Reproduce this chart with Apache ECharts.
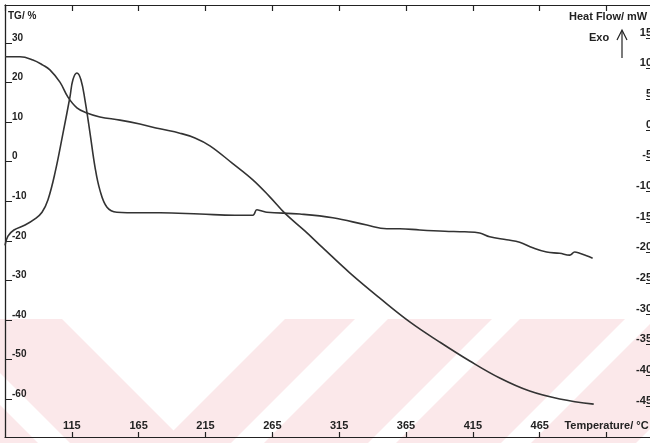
<!DOCTYPE html>
<html>
<head>
<meta charset="utf-8">
<style>html,body{margin:0;padding:0;background:#fff;overflow:hidden;}#c{width:661px;height:443px;}</style>
<script src="https://cdn.jsdelivr.net/npm/echarts@6/dist/echarts.min.js"></script>
</head>
<body>
<div id="c"></div>
<script>
// Temperature (°C) / TG (%) readings
const tgTemp  = [65, 76.2, 85.9, 93.4, 98.6, 106.1, 112.1, 118.8, 126.3, 136.0, 151.0, 165.9, 180.9, 195.8, 207.1, 218.3, 234.7, 250.4, 263.1, 274.3, 289.3, 302.8, 322.9, 345.4, 367.8, 390.2, 412.7, 435.1, 457.5, 480.0, 505.4];
const tgValue = [26.5, 26.5, 25.7, 24.4, 23.2, 20.1, 16.3, 13.6, 12.3, 11.3, 10.5, 9.5, 8.3, 7.2, 6.0, 4.0, -0.3, -4.6, -8.9, -13.0, -17.5, -21.8, -28.1, -34.5, -40.5, -45.6, -50.4, -54.7, -58.0, -60.0, -61.3];
// Temperature (°C) / Heat flow (mW) readings
const hfTemp  = [65, 67.2, 71.7, 80.0, 87.4, 92.7, 97.1, 102.4, 108.4, 113.6, 115.8, 118.8, 121.8, 124.8, 128.6, 132.3, 136.0, 141.3, 148.7, 165.9, 180.9, 210.8, 237.0, 250.4, 253.4, 257.2, 260.9, 285.6, 310.2, 335.7, 350.6, 360.3, 375.3, 394.0, 408.9, 420.1, 427.6, 440.3, 450.0, 459.8, 470.2, 479.9, 487.4, 491.2, 494.9, 500.1, 504.6];
const hfValue = [-18.8, -17.3, -16.3, -15.5, -14.5, -13.4, -11.4, -7.0, -0.5, 5.4, 8.2, 9.3, 8.2, 4.9, -0.5, -6.0, -9.8, -12.6, -13.4, -13.5, -13.5, -13.7, -13.9, -13.9, -13.0, -13.2, -13.4, -13.7, -14.3, -15.5, -16.1, -16.1, -16.3, -16.5, -16.6, -16.8, -17.4, -17.9, -18.3, -19.2, -19.9, -20.1, -20.4, -19.9, -20.1, -20.5, -20.9];
// tick labels
const tempTicks = [115, 165, 215, 265, 315, 365, 415, 465, 515];
const tgTicks = [30, 20, 10, 0, -10, -20, -30, -40, -50, -60];
const hfTicks = [15, 10, 5, 0, -5, -10, -15, -20, -25, -30, -35, -40, -45];

const tgData = tgTemp.map((t, i) => [t, tgValue[i]]);
const hfData = hfTemp.map((t, i) => [t, hfValue[i]]);

const pink = '#fbe8ea';
const poly = (pts) => ({ type: 'polygon', z: -10, silent: true, shape: { points: pts }, style: { fill: pink } });
const FF = 'Liberation Sans, Arial, sans-serif';
const labelFont = { fontFamily: FF, fontWeight: 'bold', fontSize: 11, color: '#222' };

const chart = echarts.init(document.getElementById('c'), null, { renderer: 'canvas' });
chart.setOption({
  backgroundColor: '#ffffff',
  animation: false,
  graphic: [
    poly([[0,319],[62,319],[186,443],[70,443],[0,373]]),
    poly([[0,405],[0,443],[38,443]]),
    poly([[285,319],[355,319],[231,443],[161,443]]),
    poly([[388,319],[492,319],[368,443],[264,443]]),
    poly([[520,319],[625,319],[501,443],[396,443]]),
    poly([[655,319],[760,319],[636,443],[531,443]]),
    { type: 'text', left: 8, top: 11, style: { text: 'TG/ %', fill: '#222', font: 'bold 10px ' + FF } },
    { type: 'text', left: 569, top: 11, style: { text: 'Heat Flow/ mW', fill: '#222', font: 'bold 11px ' + FF } },
    { type: 'text', left: 589, top: 32, style: { text: 'Exo', fill: '#222', font: 'bold 11px ' + FF } },
    { type: 'line', shape: { x1: 622, y1: 31, x2: 622, y2: 58 }, style: { stroke: '#222', lineWidth: 1.2 } },
    { type: 'polyline', shape: { points: [[617, 40], [622, 30], [627, 40]] }, style: { stroke: '#222', lineWidth: 1.2, fill: null } }
  ],
  grid: { left: 5, top: 5, right: 1, bottom: 6, containLabel: false },
  xAxis: [
    {
      type: 'value', position: 'bottom', min: 65, max: 555, interval: 50,
      axisLine: { show: true, onZero: false, lineStyle: { color: '#222', width: 1.2 } },
      axisTick: { show: true, inside: true, length: 5, lineStyle: { color: '#222', width: 1.2 } },
      axisLabel: Object.assign({ inside: true, margin: 6, showMinLabel: false, showMaxLabel: false,
        formatter: (v) => (v === 515 ? 'Temperature/ °C' : (tempTicks.indexOf(v) >= 0 ? String(v) : '')) }, labelFont),
      splitLine: { show: false }
    },
    {
      type: 'value', position: 'top', min: 65, max: 555, interval: 50,
      axisLine: { show: true, onZero: false, lineStyle: { color: '#222', width: 1.2 } },
      axisTick: { show: true, inside: true, length: 6, lineStyle: { color: '#222', width: 1.2 } },
      axisLabel: { show: false },
      splitLine: { show: false }
    }
  ],
  yAxis: [
    {
      type: 'value', position: 'left', min: -69.6, max: 39.6,
      axisLine: { show: true, onZero: false, lineStyle: { color: '#222', width: 1.3 } },
      axisTick: { show: true, inside: true, length: 7, customValues: tgTicks, lineStyle: { color: '#222', width: 1 } },
      axisLabel: Object.assign({ inside: true, margin: 7, verticalAlign: 'bottom', customValues: tgTicks }, labelFont, { fontSize: 10 }),
      splitLine: { show: false }
    },
    {
      type: 'value', position: 'right', min: -50.05, max: 20.38,
      axisLine: { show: true, onZero: false, lineStyle: { color: '#222', width: 1.2 } },
      axisTick: { show: true, inside: true, length: 14, customValues: hfTicks, lineStyle: { color: '#222', width: 1 } },
      axisLabel: Object.assign({ inside: true, margin: 8, verticalAlign: 'bottom', customValues: hfTicks }, labelFont),
      splitLine: { show: false }
    }
  ],
  series: [
    {
      name: 'TG', type: 'line', xAxisIndex: 0, yAxisIndex: 0, data: tgData,
      showSymbol: false, smooth: 0.4, z: 5,
      lineStyle: { color: '#333', width: 1.6 }
    },
    {
      name: 'Heat Flow', type: 'line', xAxisIndex: 0, yAxisIndex: 1, data: hfData,
      showSymbol: false, smooth: 0.4, z: 5,
      lineStyle: { color: '#333', width: 1.6 }
    }
  ]
});
</script>
</body>
</html>
